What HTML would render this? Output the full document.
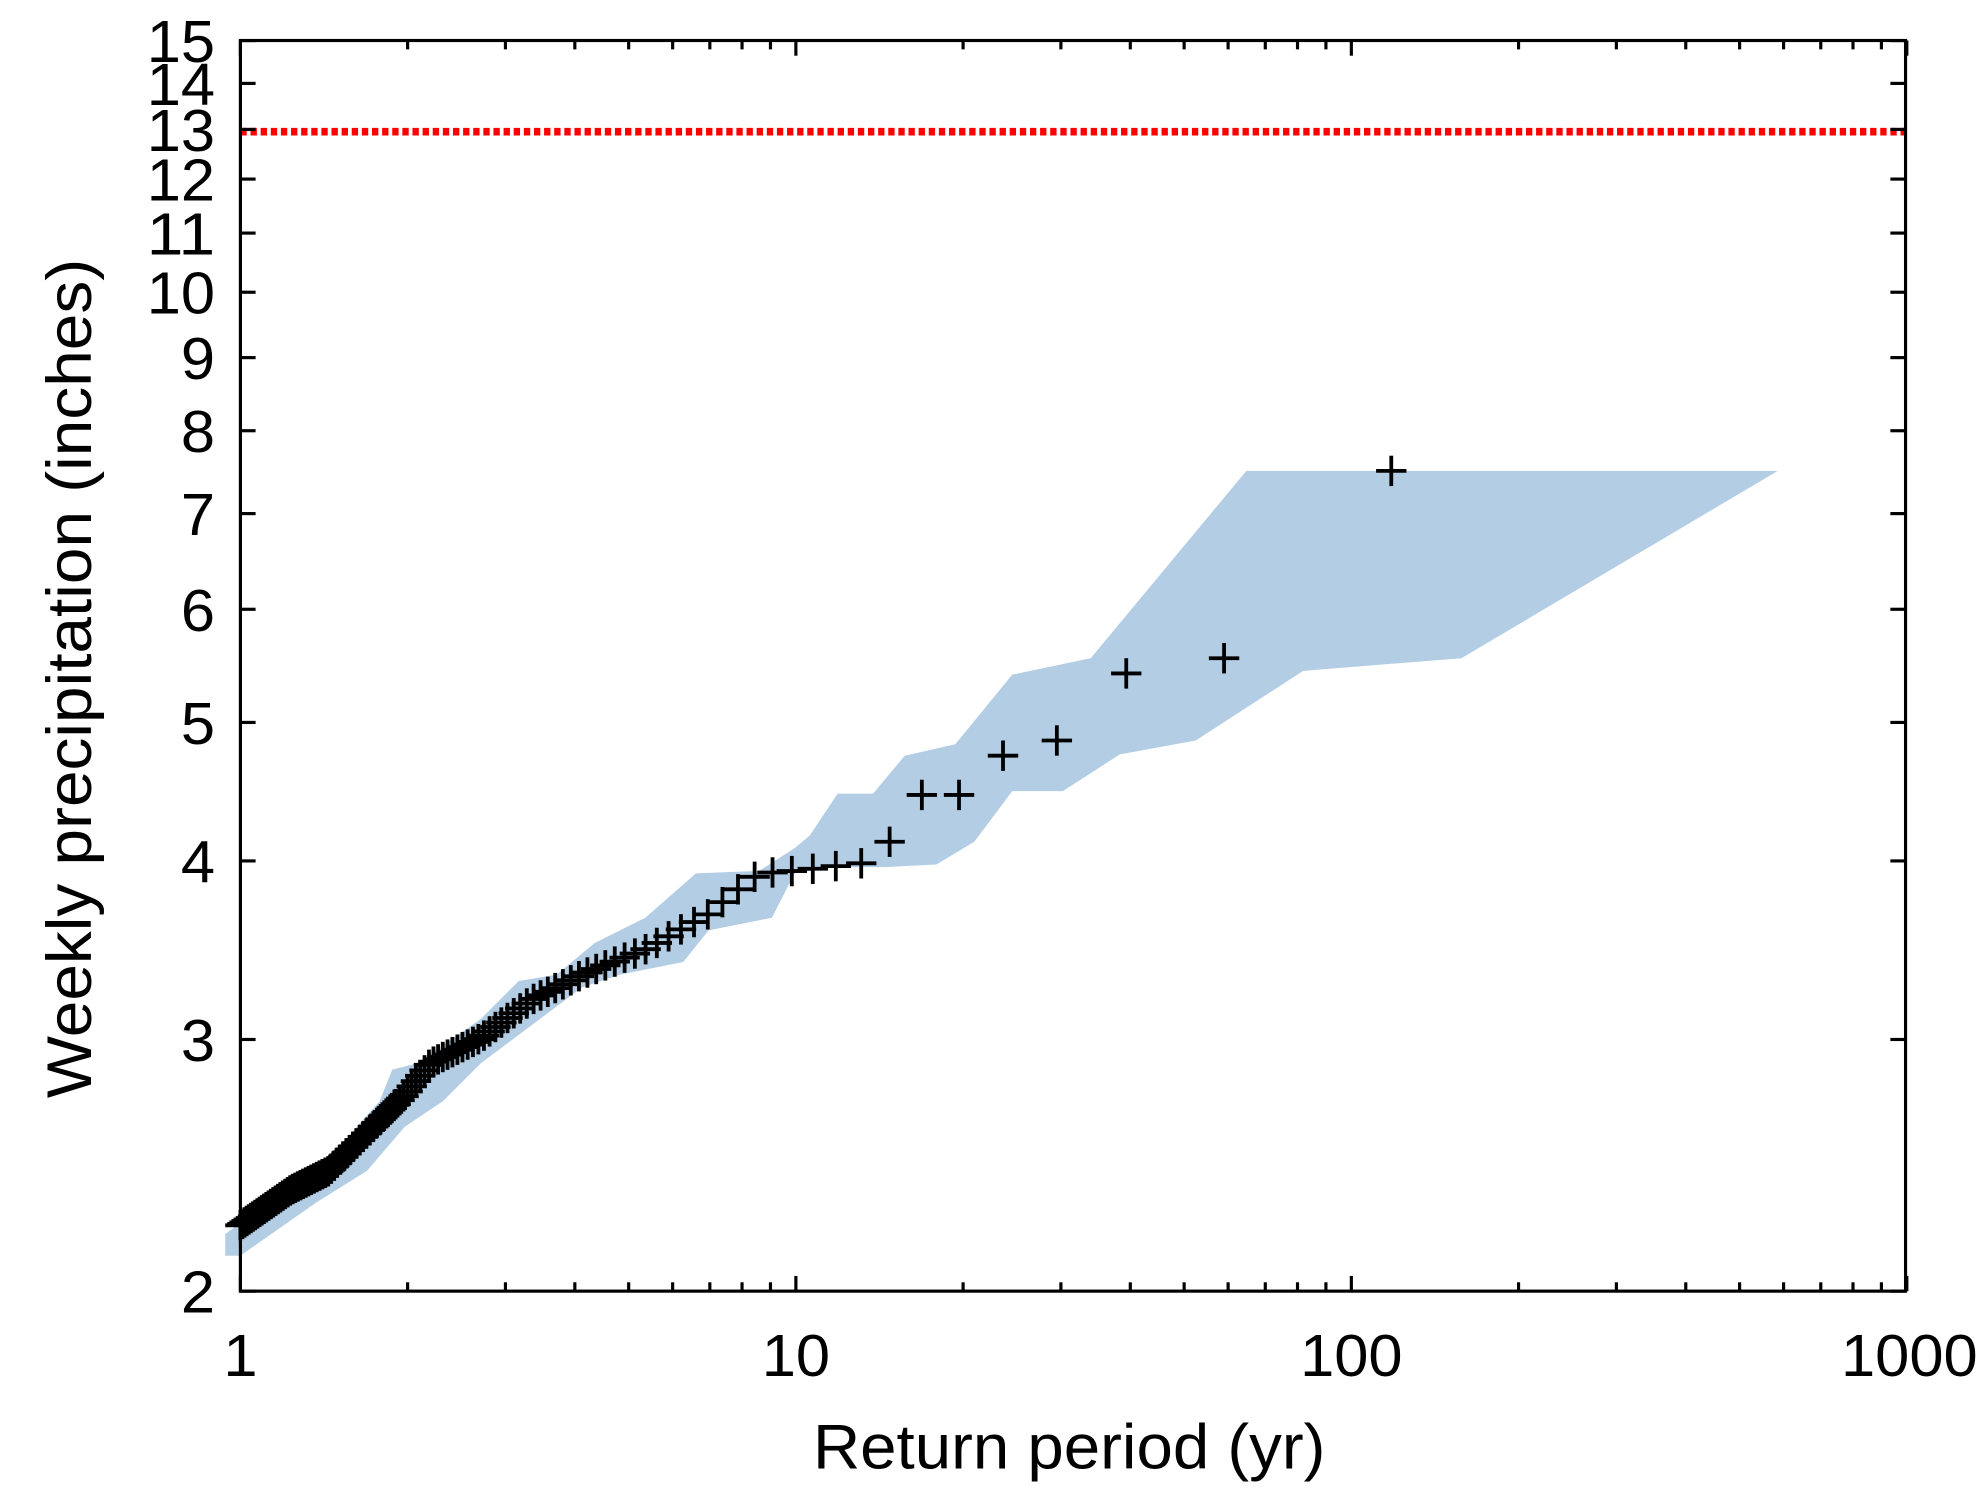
<!DOCTYPE html>
<html><head><meta charset="utf-8"><style>html,body{margin:0;padding:0;background:#fff}svg{display:block}</style></head>
<body>
<svg id="s" width="1984" height="1500" viewBox="0 0 1568 1185" preserveAspectRatio="none" xmlns="http://www.w3.org/2000/svg" font-family="Liberation Sans, Arial, sans-serif">
<rect width="1568" height="1185" fill="#fff"/>
<polygon fill="#b3cde4" points="178,975 260,915 300,870 310,845 330,840 380,805 410,775 440,770 470,745 510,725 550,690 600,688 628,670 640,660 662,627 690,627 715,597 755,588 800,533 862,520 985,372 1405,372 1155,520 1030,530 945,585 885,596 840,625 800,625 770,665 740,683 700,685 660,685 628,690 610,725 560,735 540,760 490,770 460,780 420,810 380,840 350,870 320,890 290,925 250,950 190,992 178,992"/>
<line x1="190" y1="104" x2="1506" y2="104" stroke="#ff0000" stroke-width="6" stroke-dasharray="5,3"/>
<g id="pts" stroke="#000" stroke-width="3"></g>
<g id="ax" stroke="#000" stroke-width="2.5" fill="none"><rect x="190" y="32" width="1316" height="988"/></g>
<g id="lab" font-size="47" fill="#000"></g>
<text x="845" y="1160" font-size="50" text-anchor="middle" textLength="405" lengthAdjust="spacingAndGlyphs">Return period (yr)</text>
<text transform="translate(72,536) rotate(-90)" font-size="50" text-anchor="middle" textLength="663" lengthAdjust="spacingAndGlyphs">Weekly precipitation (inches)</text>
</svg>
<script>
const NS="http://www.w3.org/2000/svg";
function el(p,t,a,txt){const e=document.createElementNS(NS,t);for(const k in a)e.setAttribute(k,a[k]);if(txt!==undefined)e.textContent=txt;document.getElementById(p).appendChild(e);}
const X=v=>190+439*Math.log10(v), Y=v=>1020-1129*Math.log10(v/2);
for(let y=2;y<=15;y++){const yy=Y(y);el('ax','line',{x1:190,x2:202,y1:yy,y2:yy});el('ax','line',{x1:1494,x2:1506,y1:yy,y2:yy});
 const s=String(y);el('lab','text',{x:170,y:yy+17,'text-anchor':'end',textLength:s.length*27,lengthAdjust:'spacingAndGlyphs'},s);}
for(let d=1;d<=1000;d*=10){for(let m=1;m<10;m++){const v=d*m;if(v>1000)break;const xx=X(v);const L=m==1?12:7;
 el('ax','line',{x1:xx,x2:xx,y1:1020,y2:1020-L});el('ax','line',{x1:xx,x2:xx,y1:32,y2:32+L});}
 const s=String(d);el('lab','text',{x:X(d)+(d==1000?2:0),y:1087,'text-anchor':'middle',textLength:s.length*27,lengthAdjust:'spacingAndGlyphs'},s);}
const N=118;const fixed=[372,520,532,585,597,628,628,665];
const path=[[180,975],[230,940],[260,925],[290,895],[320,865],[340,840],[380,820],[420,790],[460,770],[510,750],[560,722],[580,705],[600,690],[628,688],[680,682]];
function interp(x){for(let i=0;i<path.length-1;i++){const a=path[i],b=path[i+1];if(x>=a[0]&&x<=b[0])return a[1]+(b[1]-a[1])*(x-a[0])/(b[0]-a[0]);}return x<180?980:682;}
for(let k=1;k<=N;k++){const x=X(N/k);const y=k<=8?fixed[k-1]:interp(x);
 el('pts','line',{x1:x-12,x2:x+12,y1:y,y2:y});el('pts','line',{x1:x,x2:x,y1:y-12,y2:y+12});}
</script>
</body></html>
